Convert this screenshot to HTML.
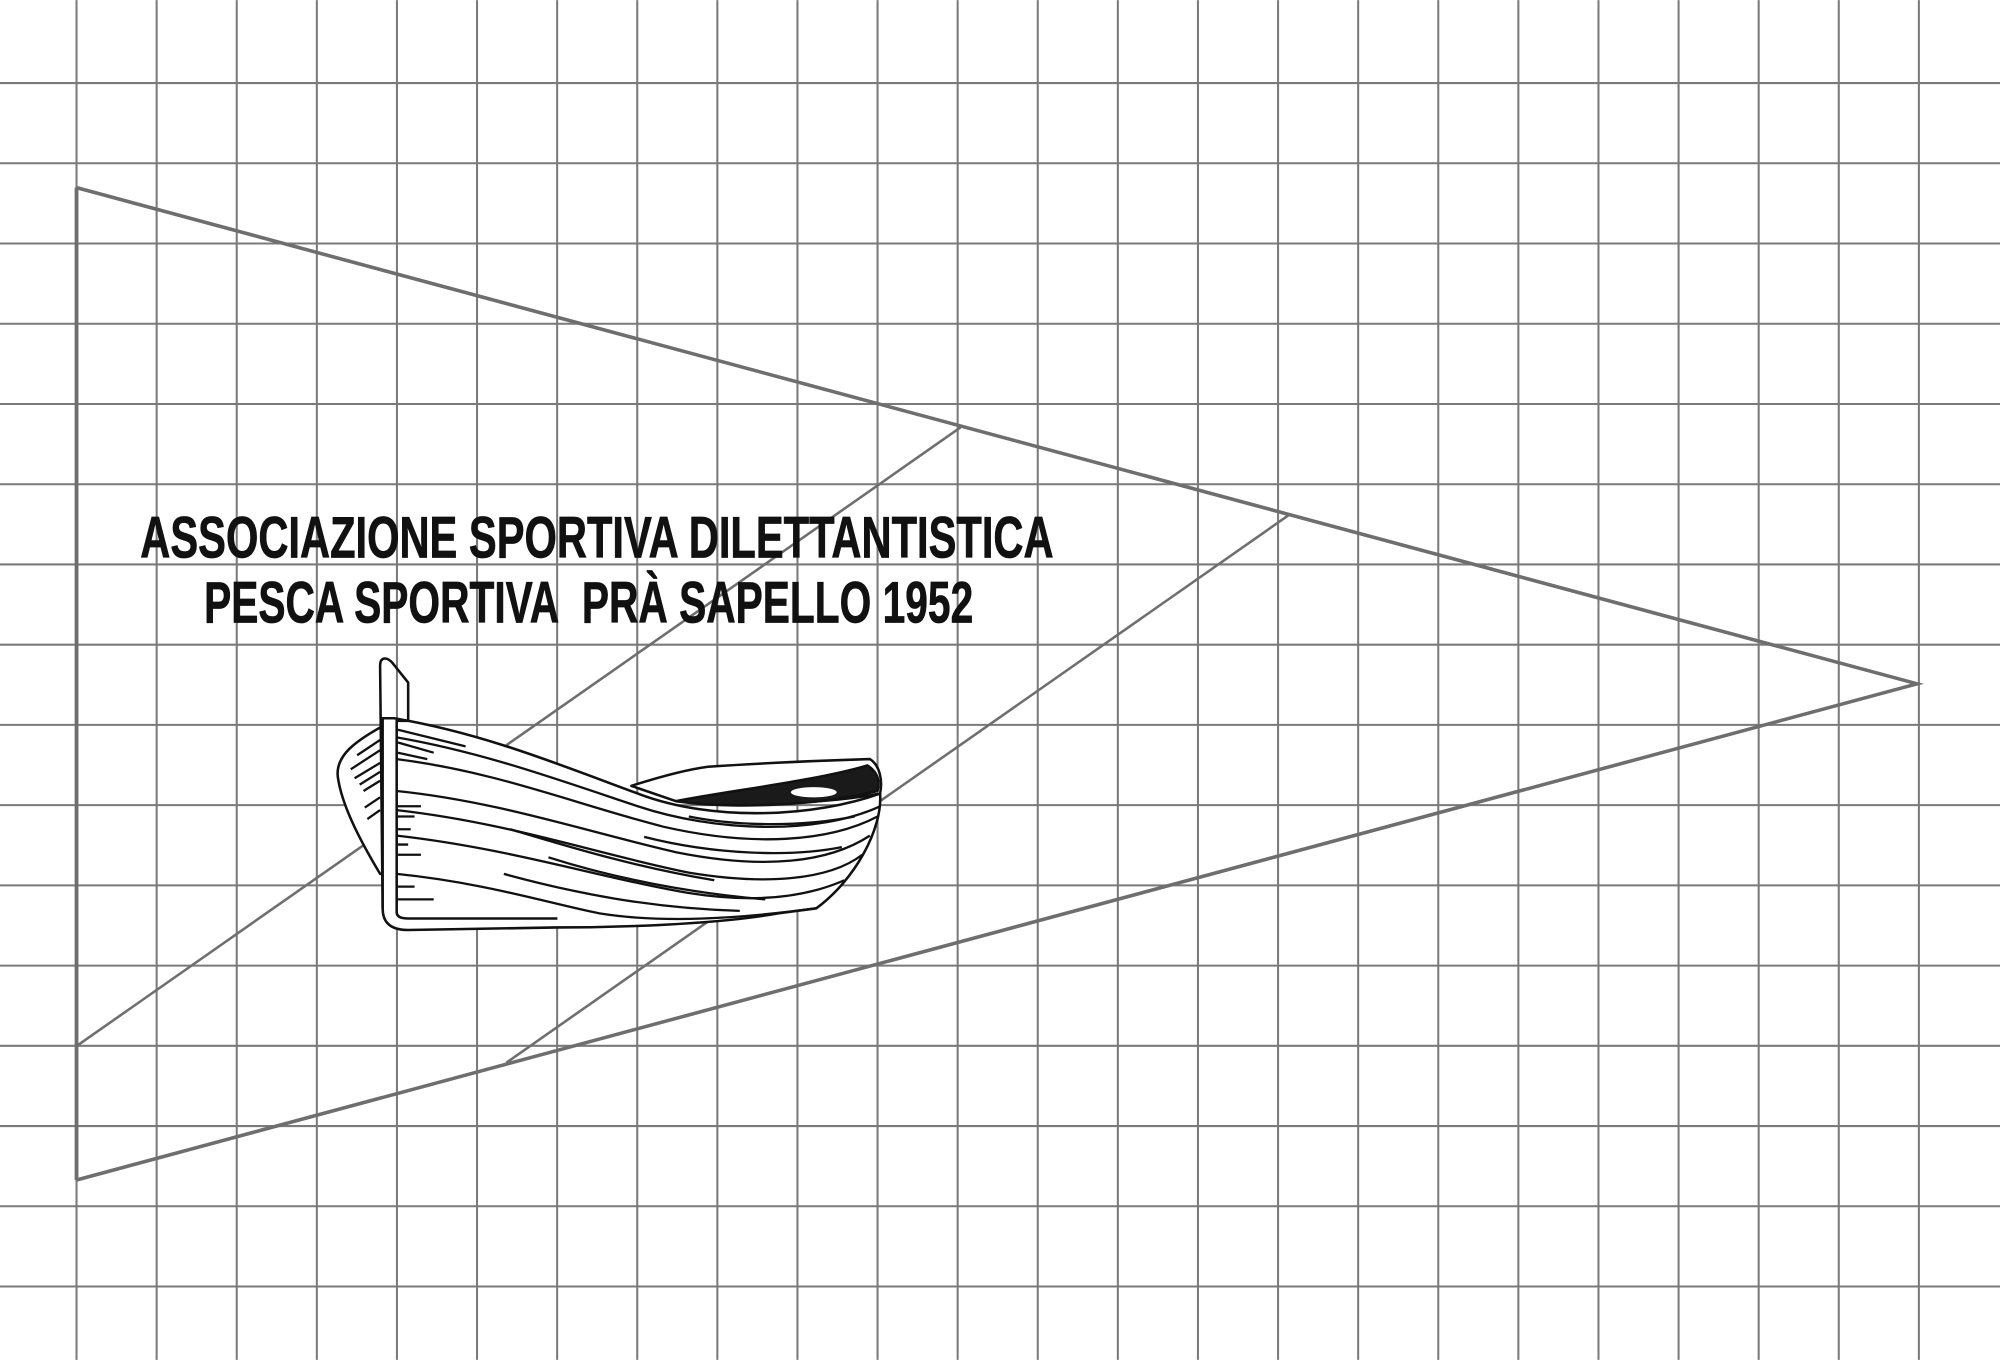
<!DOCTYPE html>
<html><head><meta charset="utf-8"><style>
html,body{margin:0;padding:0;background:#fff;}
svg{display:block;}
</style></head><body>
<svg width="2000" height="1360" viewBox="0 0 1568 1066" xmlns="http://www.w3.org/2000/svg">
<rect width="1568" height="1066" fill="#fff"/>
<g stroke="#7a7a7a" stroke-width="1.6">
<line x1="60" y1="0" x2="60" y2="1066"/><line x1="122.8" y1="0" x2="122.8" y2="1066"/><line x1="185.6" y1="0" x2="185.6" y2="1066"/><line x1="248.4" y1="0" x2="248.4" y2="1066"/><line x1="311.2" y1="0" x2="311.2" y2="1066"/><line x1="374" y1="0" x2="374" y2="1066"/><line x1="436.8" y1="0" x2="436.8" y2="1066"/><line x1="499.6" y1="0" x2="499.6" y2="1066"/><line x1="562.4" y1="0" x2="562.4" y2="1066"/><line x1="625.2" y1="0" x2="625.2" y2="1066"/><line x1="688" y1="0" x2="688" y2="1066"/><line x1="750.8" y1="0" x2="750.8" y2="1066"/><line x1="813.6" y1="0" x2="813.6" y2="1066"/><line x1="876.4" y1="0" x2="876.4" y2="1066"/><line x1="939.2" y1="0" x2="939.2" y2="1066"/><line x1="1002" y1="0" x2="1002" y2="1066"/><line x1="1064.8" y1="0" x2="1064.8" y2="1066"/><line x1="1127.6" y1="0" x2="1127.6" y2="1066"/><line x1="1190.4" y1="0" x2="1190.4" y2="1066"/><line x1="1253.2" y1="0" x2="1253.2" y2="1066"/><line x1="1316" y1="0" x2="1316" y2="1066"/><line x1="1378.8" y1="0" x2="1378.8" y2="1066"/><line x1="1441.6" y1="0" x2="1441.6" y2="1066"/><line x1="1504.4" y1="0" x2="1504.4" y2="1066"/>
<line x1="0" y1="65" x2="1568" y2="65"/><line x1="0" y1="127.9" x2="1568" y2="127.9"/><line x1="0" y1="190.8" x2="1568" y2="190.8"/><line x1="0" y1="253.7" x2="1568" y2="253.7"/><line x1="0" y1="316.6" x2="1568" y2="316.6"/><line x1="0" y1="379.5" x2="1568" y2="379.5"/><line x1="0" y1="442.4" x2="1568" y2="442.4"/><line x1="0" y1="505.3" x2="1568" y2="505.3"/><line x1="0" y1="568.2" x2="1568" y2="568.2"/><line x1="0" y1="631.1" x2="1568" y2="631.1"/><line x1="0" y1="694" x2="1568" y2="694"/><line x1="0" y1="756.9" x2="1568" y2="756.9"/><line x1="0" y1="819.8" x2="1568" y2="819.8"/><line x1="0" y1="882.7" x2="1568" y2="882.7"/><line x1="0" y1="945.6" x2="1568" y2="945.6"/><line x1="0" y1="1008.5" x2="1568" y2="1008.5"/>
</g>
<g stroke="#6e6e6e" fill="none">
<polyline points="60,147 1503,536 60,925" stroke-width="2.8"/>
<line x1="60" y1="147" x2="60" y2="925" stroke-width="3"/>
<line x1="60" y1="820" x2="753" y2="335" stroke-width="2"/>
<line x1="397" y1="833" x2="1010" y2="404" stroke-width="2"/>
</g>
<g font-family="'Liberation Sans', sans-serif" font-weight="bold" font-size="46" fill="#111" stroke="#111" stroke-width="0.6">
<text x="110" y="437" textLength="716" lengthAdjust="spacingAndGlyphs">ASSOCIAZIONE SPORTIVA DILETTANTISTICA</text>
<text x="160" y="488" textLength="603" lengthAdjust="spacingAndGlyphs">PESCA SPORTIVA&#160; PRÀ SAPELLO 1952</text>
</g>
<g stroke="#111" stroke-width="2" fill="#fff" stroke-linejoin="round">
<path d="M302,568 C280,580 262,592 265,610 C268,630 280,655 298,685 L302,685 Z"/>
<path d="M309,563 C380,575 440,600 500,622 C560,645 640,640 690,622 C692,650 670,690 640,712 L610,716 C560,725 480,727 437,727 L320,729 C305,729 300,722 300,712 L300,563 Z"/>
<path d="M495,616 C520,608 540,603 555,601 C600,598 650,596 682,595 C690,600 692,612 690,622 C650,630 580,632 530,628 Z"/>
<path d="M530,628 C570,620 640,612 680,600 C688,605 690,612 688,620 C640,632 570,634 530,628 Z" fill="#1a1a1a"/>
<ellipse cx="638" cy="621" rx="18" ry="4" fill="#fff" stroke="none"/>
<path d="M300,712 L298,522 C298,514 304,515 308,520 L320,535 L320,565 L311,565 L311,715 C311,719 315,720 320,720 L437,720" fill="none"/>
</g>
<g stroke="#111" stroke-width="1.8" fill="none">
<path d="M311,578 C380,590 440,612 500,632 C560,652 640,655 690,632"/>
<path d="M311,595 C390,605 450,630 520,648 C590,664 650,660 688,640"/>
<path d="M311,620 C390,628 460,652 530,668 C600,682 650,676 682,655"/>
<path d="M311,635 C400,645 470,670 540,684 C600,694 650,690 676,670"/>
<path d="M311,655 C400,665 470,688 540,700 C590,708 630,704 662,690"/>
<path d="M311,685 C380,692 430,708 470,716 C520,724 580,720 640,712"/>
<path d="M400,650 C450,665 500,680 560,690"/>
<path d="M430,672 C480,688 540,700 600,705"/>
<path d="M395,685 C450,700 510,712 580,714"/>
<path d="M505,656 C560,670 620,672 660,664"/>
<path d="M540,640 C580,648 630,648 670,640"/>
<path d="M312,572 L365,585 M312,582 L340,590 M312,590 L335,595"/>
<path d="M312,632 L330,632 M312,640 L325,640 M312,650 L322,650 M312,662 L320,662 M312,670 L330,670 M312,695 L325,695 M312,705 L340,705"/>
<path d="M298,580 L280,592 M298,588 L275,603 M298,598 L278,610 M298,605 L282,615 M298,612 L285,620 M298,625 L286,633 M298,635 L288,642"/>
</g>
</svg>
</body></html>
